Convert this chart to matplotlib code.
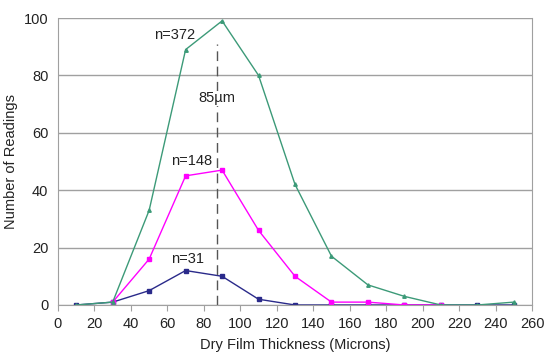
import matplotlib.pyplot as plt
import numpy as np

plt.rcParams["font.family"] = ["Liberation Sans", "DejaVu Sans"]
plt.rcParams["font.size"] = 10.5

# readings per thickness class (microns)
thick_372 = [10, 30, 50, 70, 90, 110, 130, 150, 170, 190, 210, 230, 250]
count_372 = [0, 1, 33, 89, 99, 80, 42, 17, 7, 3, 0, 0, 1]

thick_148 = [30, 50, 70, 90, 110, 130, 150, 170, 190, 210]
count_148 = [1, 16, 45, 47, 26, 10, 1, 1, 0, 0]

thick_31 = [10, 30, 50, 70, 90, 110, 130, 150, 170, 190, 210, 230, 250]
count_31 = [0, 1, 5, 12, 10, 2, 0, 0, 0, 0, 0, 0, 0]

mean_thickness = 87
x_ticks = np.arange(0, 261, 20)
y_ticks = np.arange(0, 101, 20)

fig = plt.figure(figsize=(5.55, 3.56), dpi=100)
ax = fig.add_axes([0.1045, 0.1433, 0.8541, 0.8061])

ax.plot(thick_31, count_31, color="#2a2a8a", linewidth=1, marker="s", markersize=2.5)
ax.plot(thick_148, count_148, color="#ff00ff", linewidth=1, marker="s", markersize=2.5)
ax.plot(thick_372, count_372, color="#3c9a78", linewidth=1, marker="^", markersize=2.5)

ax.plot([mean_thickness, mean_thickness], [0, 91], color="#555555",
        linewidth=1, linestyle=(0, (7, 4)))

ax.text(64, 94, "n=372", ha="center", va="center", color="#222222")
ax.text(mean_thickness, 72, "85\u00b5m", ha="center", va="center", color="#222222",
        bbox=dict(facecolor="white", edgecolor="none", pad=0.5))
ax.text(73.5, 50, "n=148", ha="center", va="center", color="#222222")
ax.text(71, 16, "n=31", ha="center", va="center", color="#222222")

ax.set_xlim(0, 260)
ax.set_ylim(0, 100)
ax.set_xticks(x_ticks)
ax.set_yticks(y_ticks)
ax.yaxis.grid(True, color="#a0a0a0", linewidth=1)
ax.set_axisbelow(True)

for side in ["left", "bottom", "right"]:
    ax.spines[side].set_color("#a0a0a0")
ax.spines["top"].set_visible(False)
ax.tick_params(axis="x", direction="out", length=4, pad=5, color="#a0a0a0", labelcolor="#222222")
ax.tick_params(axis="y", length=0, pad=7, labelcolor="#222222")

ax.set_xlabel("Dry Film Thickness (Microns)", color="#222222", labelpad=5)
ax.set_ylabel("Number of Readings", color="#222222", labelpad=4)

fig.savefig("out.png", dpi=100)
